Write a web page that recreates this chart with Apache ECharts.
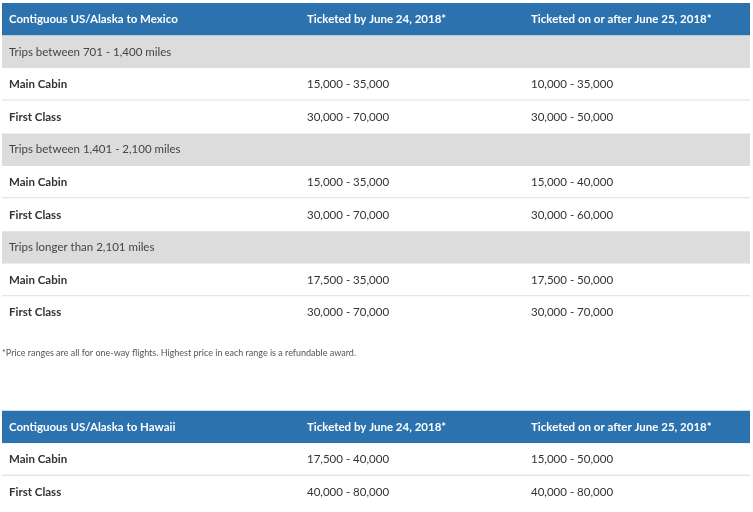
<!DOCTYPE html>
<html><head><meta charset="utf-8">
<script src="https://cdn.jsdelivr.net/npm/echarts@6/dist/echarts.min.js"></script>
<style>html,body{margin:0;padding:0;background:#fff}#c{width:753px;height:512px}</style>
</head><body><div id="c"></div>
<script>
// Table 1 (Mexico)
const headers1 = ["Contiguous US/Alaska to Mexico", "Ticketed by June 24, 2018*", "Ticketed on or after June 25, 2018*"];
const groups1 = ["Trips between 701 - 1,400 miles", "Trips between 1,401 - 2,100 miles", "Trips longer than 2,101 miles"];
const cabins = ["Main Cabin", "First Class"];
const before1 = [["15,000 - 35,000", "30,000 - 70,000"], ["15,000 - 35,000", "30,000 - 70,000"], ["17,500 - 35,000", "30,000 - 70,000"]];
const after1 = [["10,000 - 35,000", "30,000 - 50,000"], ["15,000 - 40,000", "30,000 - 60,000"], ["17,500 - 50,000", "30,000 - 70,000"]];
const footnote = "*Price ranges are all for one-way flights. Highest price in each range is a refundable award.";
// Table 2 (Hawaii)
const headers2 = ["Contiguous US/Alaska to Hawaii", "Ticketed by June 24, 2018*", "Ticketed on or after June 25, 2018*"];
const before2 = ["17,500 - 40,000", "40,000 - 80,000"];
const after2 = ["15,000 - 50,000", "40,000 - 80,000"];

// layout constants
const ROW = 32.6, T1 = 3, T2 = 410.7, X0 = 2, X1 = 750;
const colX = [9, 307, 531];

// build rows
const rows = [];
rows.push({type: 'head', y: T1, cells: headers1});
let y = T1 + ROW;
groups1.forEach((g, gi) => {
  rows.push({type: 'group', y: y, cells: [g]}); y += ROW;
  cabins.forEach((c, ci) => {
    rows.push({type: 'body', y: y, cells: [c, before1[gi][ci], after1[gi][ci]], last: ci === cabins.length - 1}); y += ROW;
  });
});
rows.push({type: 'note', y: 353, cells: [footnote]});
rows.push({type: 'head', y: T2, cells: headers2});
y = T2 + ROW;
cabins.forEach((c, ci) => {
  rows.push({type: 'body', y: y, cells: [c, before2[ci], after2[ci]], last: ci === cabins.length - 1}); y += ROW;
});

const FONT = 'Lato, "Open Sans", sans-serif';
const chart = echarts.init(document.getElementById('c'), null, {renderer: 'canvas'});
chart.setOption({
  animation: false,
  grid: {left: 0, right: 0, top: 0, bottom: 0},
  xAxis: {type: 'value', min: 0, max: 753, show: false},
  yAxis: {type: 'value', min: 0, max: 512, inverse: true, show: false},
  series: [{
    type: 'custom',
    coordinateSystem: 'cartesian2d',
    data: rows.map((r, i) => [i]),
    renderItem: function (params, api) {
      const r = rows[api.value(0)];
      const p0 = api.coord([X0, r.y]);
      const p1 = api.coord([X1, r.y + ROW]);
      const children = [];
      if (r.type === 'note') {
        const p = api.coord([colX[0] - 7, r.y]);
        children.push({type: 'text', style: {x: p[0], y: p[1], text: r.cells[0], fill: '#555', font: '9px ' + FONT, verticalAlign: 'middle'}});
        return {type: 'group', children};
      }
      const bg = r.type === 'head' ? '#2b72ae' : r.type === 'group' ? '#dcdcdc' : '#ffffff';
      children.push({type: 'rect', shape: {x: p0[0], y: p0[1], width: p1[0] - p0[0], height: p1[1] - p0[1]}, style: {fill: bg}});
      if (r.type === 'body' && !r.last) {
        children.push({type: 'rect', shape: {x: p0[0], y: p1[1] - 1.5, width: p1[0] - p0[0], height: 1.5}, style: {fill: '#e6e6e6'}});
      }
      const cy = (p0[1] + p1[1]) / 2;
      r.cells.forEach((t, ci) => {
        const px = api.coord([colX[ci], 0])[0];
        let fill = '#333', weight = 'normal';
        if (r.type === 'head') { fill = '#ffffff'; weight = 'bold'; }
        else if (r.type === 'body' && ci === 0) { weight = 'bold'; }
        else if (r.type === 'group') { fill = '#444'; }
        children.push({type: 'text', style: {x: px, y: cy, text: t, fill: fill, font: weight + ' 11.5px ' + FONT, verticalAlign: 'middle'}});
      });
      return {type: 'group', children};
    }
  }]
});
</script></body></html>
